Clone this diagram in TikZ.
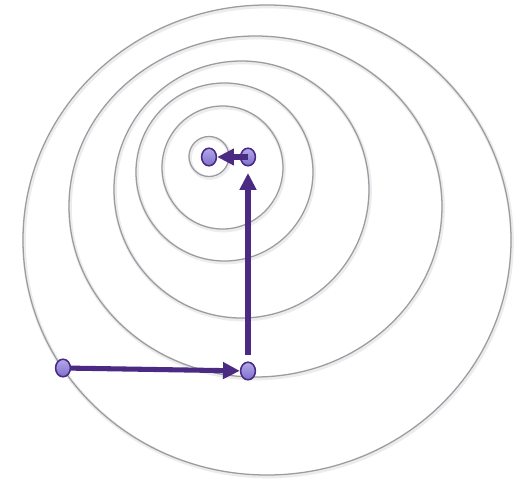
\documentclass[tikz,border=0pt]{standalone}
\usepackage{xcolor}
\usepackage{tikz}
\usetikzlibrary{arrows.meta,positioning,shapes.geometric}
\definecolor{Ink}{HTML}{4A2A82}
\definecolor{Dot}{HTML}{7F6FCB}
\definecolor{DotLight}{HTML}{B3A8EA}
\definecolor{Ring}{HTML}{9C9CA0}
\definecolor{Shade}{HTML}{ECECEE}
\tikzset{
  flowarrow/.style={-{Triangle[length=4.2mm,width=4mm]}, line width=3.6pt, draw=Ink},
  dotnode/.style={ellipse, draw=Ink, line width=1.1pt, top color=DotLight, bottom color=Dot, minimum width=3.7mm, minimum height=4.4mm, inner sep=0pt},
  ringline/.style={draw=Ring, line width=0.9pt},
  ringshadow/.style={draw=Shade, line width=2.6pt},
}

\begin{document}
\begin{tikzpicture}[x=0.025cm,y=-0.025cm]
\path[use as bounding box] (0,0) rectangle (520,480);
\fill[white] (0,0) rectangle (520,480);

% nested rings
\foreach \cx/\cy/\rx/\ry in {267/240/244/235,255.5/206.5/186.5/170.5,241.5/189.5/127.5/128.5,224.5/172/88.5/89,222.5/167.5/60.5/61.5,209/156.5/20/20}{
  \draw[ringshadow] (\cx+1,\cy+1.5) ellipse [x radius=\rx, y radius=\ry];
  \draw[ringline] (\cx,\cy) ellipse [x radius=\rx, y radius=\ry];
}

% points
\node[dotnode] (start) at (63,368) {};
\node[dotnode] (corner) at (248,371) {};
\node[dotnode] (near) at (248,157) {};
\node[dotnode] (goal) at (209,157) {};

% moves
\draw[flowarrow] (start) -- (corner);
\draw[flowarrow, shorten <=1.5mm, shorten >=1.6mm] (corner) -- (near);
\draw[flowarrow] (near.center) -- (goal);
\end{tikzpicture}
\end{document}
